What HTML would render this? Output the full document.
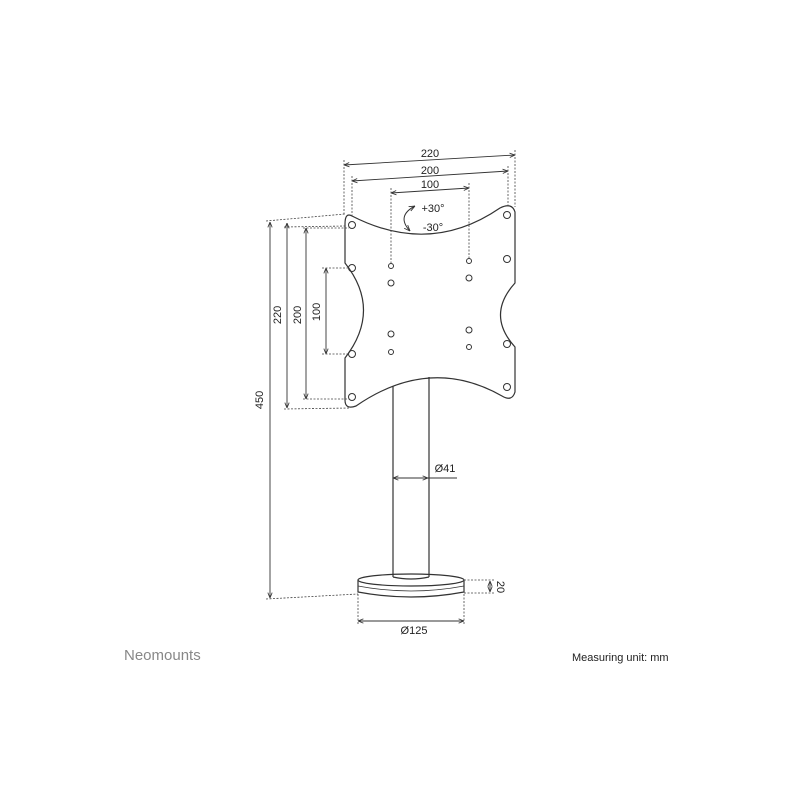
<!DOCTYPE html>
<html><head><style>body{margin:0;background:#fff}svg{display:block}</style></head><body>
<svg width="800" height="800" viewBox="0 0 800 800" xmlns="http://www.w3.org/2000/svg" font-family="Liberation Sans, sans-serif">
<defs><marker id="a" viewBox="0 0 10 10" refX="10" refY="5" markerWidth="6" markerHeight="6" orient="auto-start-reverse"><path d="M0,1 L10,5 L0,9" fill="none" stroke="#333" stroke-width="1.5"/></marker></defs>
<g fill="none" stroke="#333" stroke-width="1.2">
<path d="M352,216 Q430,256 500,208 Q512,202 515,212 L515,283 Q486,315 515,347 L515,392 Q512,402 502,396 Q430,355 356,406 Q345,410 345,400 L345,358 Q382,310 345,263 L345,224 Q345,212 352,216 Z"/>
<g stroke-width="1">
<circle cx="352" cy="225" r="3.5"/><circle cx="507" cy="215" r="3.5"/>
<circle cx="352" cy="268" r="3.5"/><circle cx="507" cy="259" r="3.5"/>
<circle cx="352" cy="354" r="3.5"/><circle cx="507" cy="344" r="3.5"/>
<circle cx="352" cy="397" r="3.5"/><circle cx="507" cy="387" r="3.5"/>
<circle cx="391" cy="266" r="2.5"/><circle cx="391" cy="283" r="3"/>
<circle cx="469" cy="261" r="2.5"/><circle cx="469" cy="278" r="3"/>
<circle cx="391" cy="334" r="3"/><circle cx="391" cy="352" r="2.5"/>
<circle cx="469" cy="330" r="3"/><circle cx="469" cy="347" r="2.5"/>
</g>
<line x1="393" y1="386" x2="393" y2="577"/><line x1="429" y1="377" x2="429" y2="577"/>
<path d="M393,577 Q411,581 429,577"/>
<ellipse cx="411" cy="580" rx="53" ry="6"/>
<path d="M358,580 L358,592 Q411,602 464,592 L464,580"/>
<path d="M358,586 Q411,596 464,586" stroke-width="0.8"/>
<path d="M415,206 Q396,216 410,231" marker-start="url(#a)" marker-end="url(#a)" stroke-width="1"/>
</g>
<g fill="none" stroke="#444" stroke-width="0.8" stroke-dasharray="2,1.5">
<line x1="344" y1="160" x2="344" y2="215"/><line x1="515" y1="150" x2="515" y2="207"/>
<line x1="352" y1="176" x2="352" y2="216"/><line x1="508" y1="166" x2="508" y2="208"/>
<line x1="391" y1="188" x2="391" y2="264"/><line x1="469" y1="183" x2="469" y2="259"/>
<line x1="266" y1="221" x2="345" y2="214"/><line x1="284" y1="227" x2="345" y2="226"/>
<line x1="303" y1="228" x2="349" y2="228"/><line x1="322" y1="268" x2="349" y2="268"/>
<line x1="322" y1="354" x2="349" y2="354"/><line x1="303" y1="399" x2="349" y2="399"/>
<line x1="284" y1="409" x2="350" y2="408"/><line x1="266" y1="599" x2="358" y2="594"/>
<line x1="464" y1="580" x2="495" y2="580"/><line x1="464" y1="593" x2="495" y2="593"/>
<line x1="358" y1="594" x2="358" y2="624"/><line x1="464" y1="594" x2="464" y2="624"/>
</g>
<g stroke="#333" stroke-width="0.9" fill="none">
<line x1="344" y1="165" x2="515" y2="155" marker-start="url(#a)" marker-end="url(#a)"/>
<line x1="352" y1="181" x2="508" y2="171" marker-start="url(#a)" marker-end="url(#a)"/>
<line x1="391" y1="193" x2="469" y2="188" marker-start="url(#a)" marker-end="url(#a)"/>
<line x1="270" y1="222" x2="270" y2="598" marker-start="url(#a)" marker-end="url(#a)"/>
<line x1="287" y1="223" x2="287" y2="408" marker-start="url(#a)" marker-end="url(#a)"/>
<line x1="306" y1="228" x2="306" y2="399" marker-start="url(#a)" marker-end="url(#a)"/>
<line x1="326" y1="268" x2="326" y2="354" marker-start="url(#a)" marker-end="url(#a)"/>
<line x1="393" y1="478" x2="428" y2="478" marker-start="url(#a)" marker-end="url(#a)"/>
<line x1="428" y1="478" x2="457" y2="478"/>
<line x1="490" y1="581" x2="490" y2="592" marker-start="url(#a)" marker-end="url(#a)"/>
<line x1="358" y1="621" x2="464" y2="621" marker-start="url(#a)" marker-end="url(#a)"/>
</g>
<g fill="#222" font-size="11" text-anchor="middle">
<text x="430" y="157">220</text><text x="430" y="174">200</text><text x="430" y="188">100</text>
<text x="433" y="212">+30°</text><text x="433" y="231">-30°</text>
<text x="445" y="472">Ø41</text><text x="414" y="634">Ø125</text>
<text transform="translate(263,400) rotate(-90)">450</text>
<text transform="translate(281,315) rotate(-90)">220</text>
<text transform="translate(301,315) rotate(-90)">200</text>
<text transform="translate(320,312) rotate(-90)">100</text>
<text transform="translate(497,587) rotate(90)">20</text>
</g>
<text x="124" y="660" font-size="15" fill="#888">Neomounts</text>
<text x="572" y="661" font-size="11" fill="#222">Measuring unit: mm</text>
</svg>
</body></html>
